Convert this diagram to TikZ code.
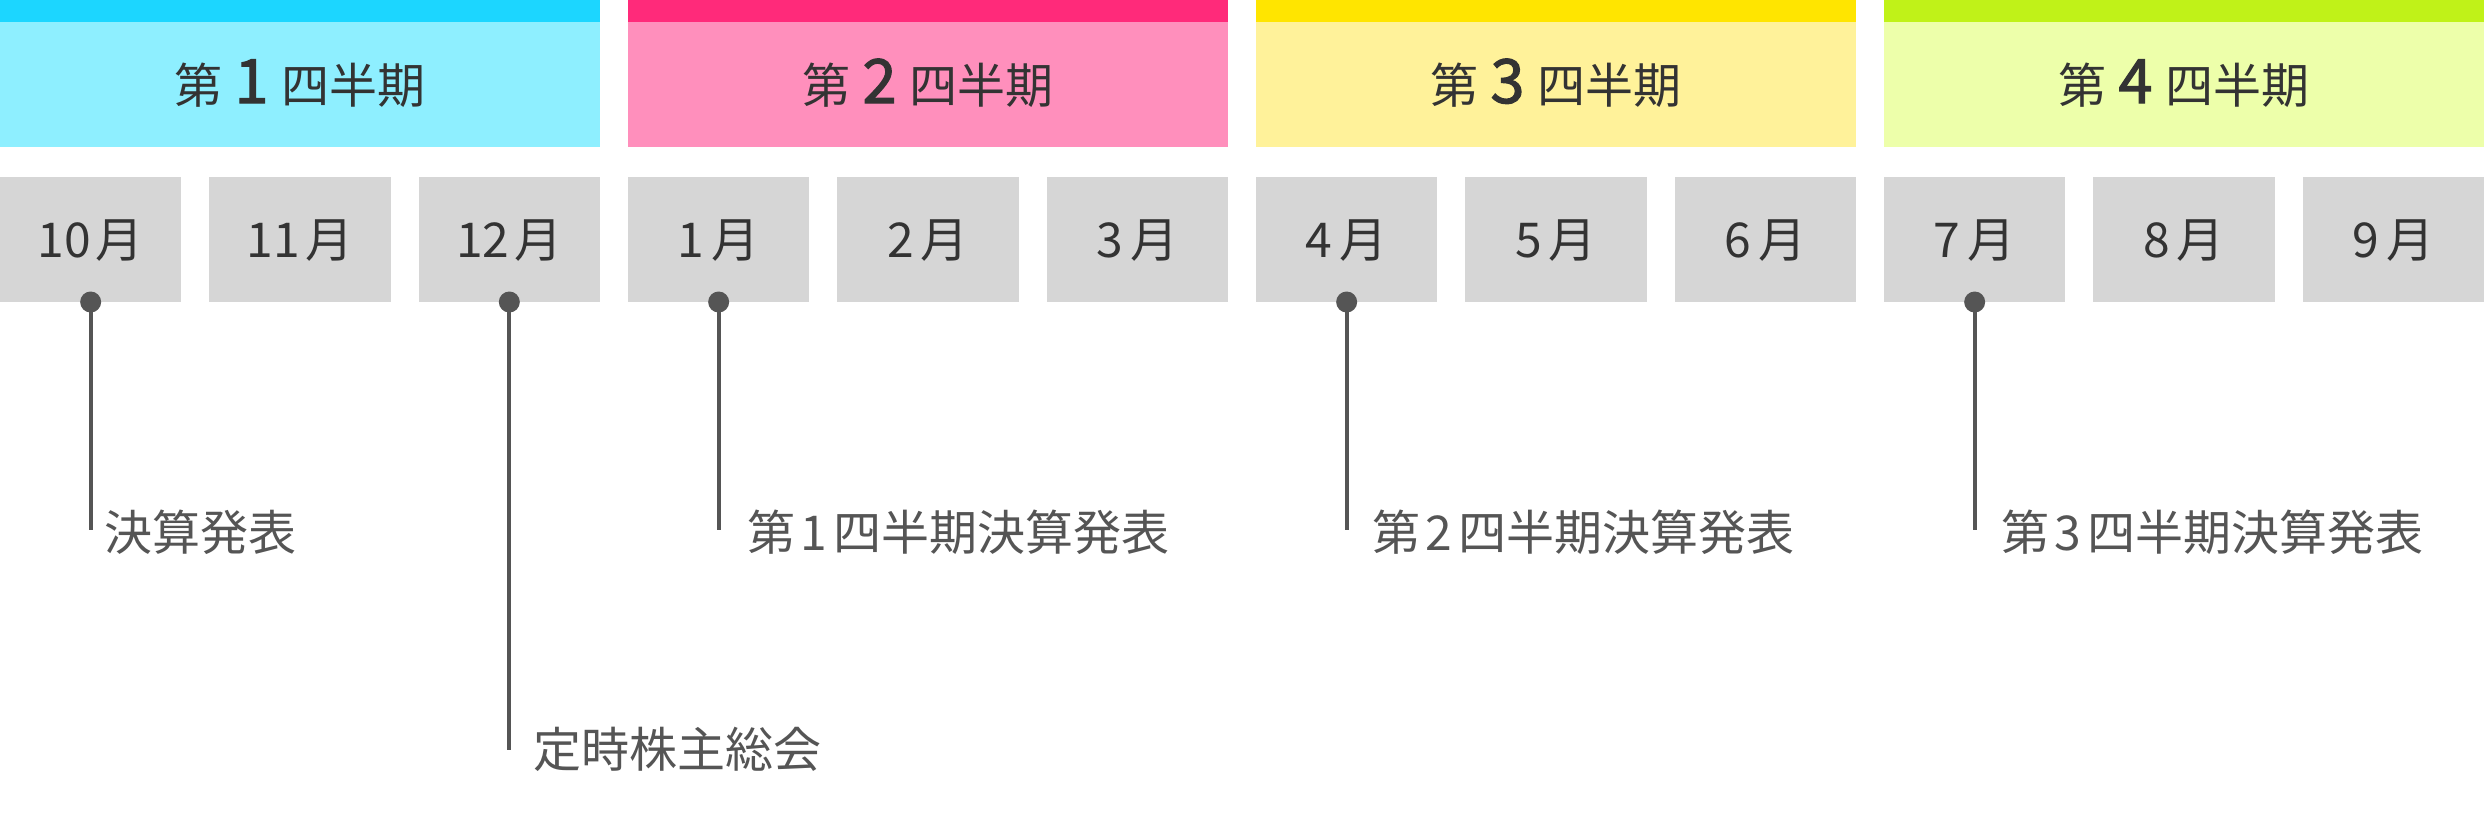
\documentclass[tikz,border=0pt]{standalone}
\usepackage{fontspec}
\setmainfont{Noto Sans CJK JP}
\newfontfamily\qdigitfont[FakeBold=2]{Noto Sans CJK JP}
\definecolor{qatop}{HTML}{1CD6FF}
\definecolor{qa}{HTML}{8EEFFF}
\definecolor{qbtop}{HTML}{FF2A7A}
\definecolor{qb}{HTML}{FF8FBC}
\definecolor{qctop}{HTML}{FFE500}
\definecolor{qc}{HTML}{FFF29A}
\definecolor{qdtop}{HTML}{C0F218}
\definecolor{qd}{HTML}{EDFFAA}
\definecolor{boxgray}{HTML}{D6D6D6}
\definecolor{darktext}{HTML}{333333}
\definecolor{evgray}{HTML}{555555}
\begin{document}
\begin{tikzpicture}[x=1pt,y=-1pt,
  qbar/.style={fill=#1, draw=none, minimum width=600pt, minimum height=22pt, inner sep=0pt, outer sep=0pt, anchor=north west},
  qhead/.style={fill=#1, draw=none, minimum width=600pt, minimum height=125pt, inner sep=0pt, outer sep=0pt, anchor=north west},
  mbox/.style={fill=boxgray, draw=none, minimum width=181.33pt, minimum height=125pt, inner sep=0pt, outer sep=0pt, anchor=north west},
  htext/.style={text=darktext, inner sep=0pt, anchor=base, font=\fontsize{48pt}{56pt}\selectfont},
  mtext/.style={text=darktext, inner sep=0pt, anchor=base, font=\fontsize{48pt}{56pt}\selectfont},
  evtext/.style={text=evgray, inner sep=0pt, anchor=base west, font=\fontsize{48pt}{56pt}\selectfont},
  evdot/.style={circle, fill=evgray, draw=none, minimum size=21pt, inner sep=0pt},
  evline/.style={draw=evgray, line width=4pt}
]
\useasboundingbox (0,0) rectangle (2484,820);

% quarter headers
\node[qhead=qa] (qa) at (0,22) {};
\node[qhead=qb] (qb) at (628,22) {};
\node[qhead=qc] (qc) at (1256,22) {};
\node[qhead=qd] (qd) at (1884,22) {};
\node[qbar=qatop] (qabar) at (0,0) {};
\node[qbar=qbtop] (qbbar) at (628,0) {};
\node[qbar=qctop] (qcbar) at (1256,0) {};
\node[qbar=qdtop] (qdbar) at (1884,0) {};

\newcommand{\qnum}[1]{\hspace{12pt}{\qdigitfont\fontsize{61pt}{61pt}\selectfont #1}\hspace{13pt}}
\newcommand{\evnum}[1]{\hspace{5pt}#1\hspace{7pt}}
\node[htext] (ta) at (300,103) {第\qnum{1}四半期};
\node[htext] (tb) at (928,103) {第\qnum{2}四半期};
\node[htext] (tc) at (1556,103) {第\qnum{3}四半期};
\node[htext] (td) at (2184,103) {第\qnum{4}四半期};

% month boxes
\node[mbox] (m10) at (0,177) {};
\node[mbox] (m11) at (209.33,177) {};
\node[mbox] (m12) at (418.67,177) {};
\node[mbox] (m1) at (628,177) {};
\node[mbox] (m2) at (837.33,177) {};
\node[mbox] (m3) at (1046.67,177) {};
\node[mbox] (m4) at (1256,177) {};
\node[mbox] (m5) at (1465.33,177) {};
\node[mbox] (m6) at (1674.67,177) {};
\node[mbox] (m7) at (1884,177) {};
\node[mbox] (m8) at (2093.33,177) {};
\node[mbox] (m9) at (2302.67,177) {};

\node[mtext] (l10) at (90.67,257) {10\hspace{5pt}月};
\node[mtext] (l11) at (300,257) {11\hspace{5pt}月};
\node[mtext] (l12) at (509.33,257) {12\hspace{5pt}月};
\node[mtext] (l1) at (718.67,257) {1\hspace{7pt}月};
\node[mtext] (l2) at (928,257) {2\hspace{7pt}月};
\node[mtext] (l3) at (1137.33,257) {3\hspace{7pt}月};
\node[mtext] (l4) at (1346.67,257) {4\hspace{7pt}月};
\node[mtext] (l5) at (1556,257) {5\hspace{7pt}月};
\node[mtext] (l6) at (1765.33,257) {6\hspace{7pt}月};
\node[mtext] (l7) at (1974.67,257) {7\hspace{7pt}月};
\node[mtext] (l8) at (2184,257) {8\hspace{7pt}月};
\node[mtext] (l9) at (2393.33,257) {9\hspace{7pt}月};

% events
\coordinate (ea) at (90.67,530);
\coordinate (eb) at (509.33,750);
\coordinate (ec) at (718.67,530);
\coordinate (ed) at (1346.67,530);
\coordinate (ee) at (1974.67,530);
\node[evdot] (da) at (90.67,302) {};
\node[evdot] (db) at (509.33,302) {};
\node[evdot] (dc) at (718.67,302) {};
\node[evdot] (dd) at (1346.67,302) {};
\node[evdot] (de) at (1974.67,302) {};
\draw[evline] (da.center) -- (ea);
\draw[evline] (db.center) -- (eb);
\draw[evline] (dc.center) -- (ec);
\draw[evline] (dd.center) -- (ed);
\draw[evline] (de.center) -- (ee);

\node[evtext] (xa) at (104,550) {決算発表};
\node[evtext] (xb) at (533,767) {定時株主総会};
\node[evtext] (xc) at (747,550) {第\evnum{1}四半期決算発表};
\node[evtext] (xd) at (1372,550) {第\evnum{2}四半期決算発表};
\node[evtext] (xe) at (2001,550) {第\evnum{3}四半期決算発表};
\end{tikzpicture}
\end{document}
